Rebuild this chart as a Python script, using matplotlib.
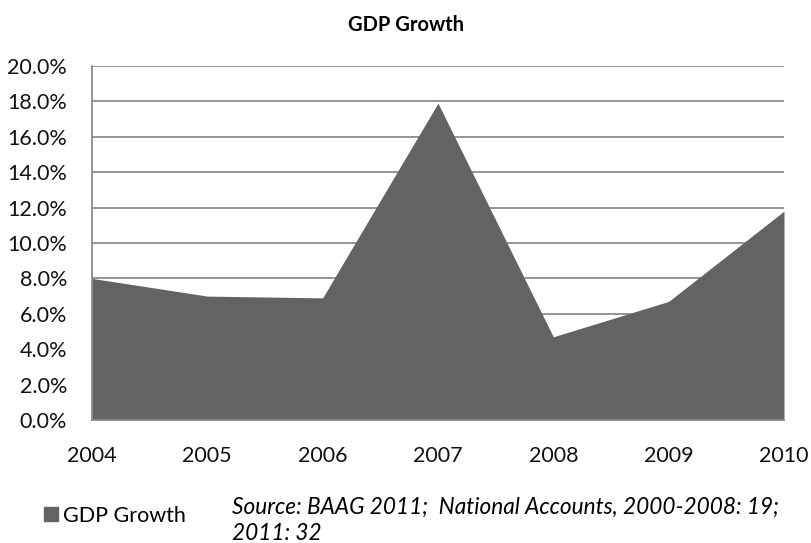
import matplotlib
matplotlib.use("Agg")
import matplotlib.pyplot as plt
from matplotlib.patches import Patch
from matplotlib.ticker import FuncFormatter

years = [2004, 2005, 2006, 2007, 2008, 2009, 2010]
gdp_growth = [8.0, 7.0, 6.9, 17.9, 4.7, 6.7, 11.8]
yticks = [0, 2, 4, 6, 8, 10, 12, 14, 16, 18, 20]

plt.rcParams['font.family'] = ['Lato', 'DejaVu Sans']

fig = plt.figure(figsize=(8.11, 5.43), dpi=100)
ax = fig.add_axes([0.1134, 0.2265, 0.8533, 0.652])
fill_color = '#636363'
grid_color = '#8c8c8c'

ax.fill_between(years, gdp_growth, 0, color=fill_color, linewidth=0, zorder=3)
ax.set_xlim(years[0], years[-1])
ax.set_ylim(0, 20)
ax.set_yticks(yticks)
ax.yaxis.set_major_formatter(FuncFormatter(lambda v, p: f"{v:.1f}%"))
ax.set_xticks(years)
ax.set_xticklabels([str(y) for y in years])
ax.grid(axis='y', color=grid_color, linewidth=1.3, zorder=1)
ax.set_axisbelow(True)
for s in ['top', 'right']:
    ax.spines[s].set_visible(False)
for s in ['left', 'bottom']:
    ax.spines[s].set_color(grid_color)
    ax.spines[s].set_linewidth(1.3)
    ax.spines[s].set_zorder(4)
ax.tick_params(axis='y', length=0, pad=18, labelsize=15.5, colors='#111111')
ax.tick_params(axis='x', length=0, pad=19, labelsize=15.5, colors='#111111')

fig.text(0.5, 0.954, 'GDP Growth', ha='center', va='center', fontsize=14.5, fontweight='bold')

fig.legend(handles=[Patch(color=fill_color, label='GDP Growth')], loc='center left',
           bbox_to_anchor=(0.03, 0.05), frameon=False, fontsize=15.5,
           handlelength=0.65, handleheight=0.65, handletextpad=0.25)

fig.text(0.286, 0.042, 'Source: BAAG 2011;  National Accounts, 2000-2008: 19;\n2011: 32',
         ha='left', va='center', fontsize=16.3, style='italic', linespacing=1.3)

fig.savefig('out.png', dpi=100)
